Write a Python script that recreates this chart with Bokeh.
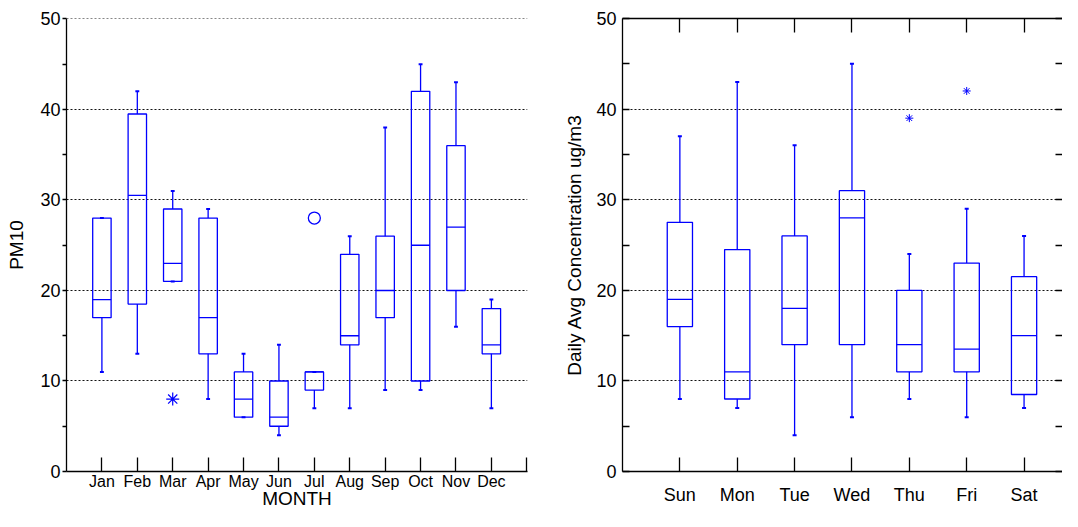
from bokeh.plotting import figure
from bokeh.layouts import row
from bokeh.models import ColumnDataSource, FixedTicker, LinearAxis, Range1d
from bokeh.embed import file_html
from bokeh.resources import INLINE

# ---------------- data ----------------
months = ["Jan", "Feb", "Mar", "Apr", "May", "Jun", "Jul", "Aug", "Sep", "Oct", "Nov", "Dec"]
m_low = [11, 13, 21, 8, 6, 4, 7, 7, 9, 9, 16, 7]
m_q1 = [17, 18.5, 21, 13, 6, 5, 9, 14, 17, 10, 20, 13]
m_med = [19, 30.5, 23, 17, 8, 6, 11, 15, 20, 25, 27, 14]
m_q3 = [28, 39.5, 29, 28, 11, 10, 11, 24, 26, 42, 36, 18]
m_high = [28, 42, 31, 29, 13, 14, 11, 26, 38, 45, 43, 19]
m_far_cat = ["Mar"]          # far outside (asterisk)
m_far_val = [8]
m_out_cat = ["Jul"]          # outside (circle)
m_out_val = [28]

days = ["Sun", "Mon", "Tue", "Wed", "Thu", "Fri", "Sat"]
d_low = [8, 7, 4, 6, 8, 6, 7]
d_q1 = [16, 8, 14, 14, 11, 11, 8.5]
d_med = [19, 11, 18, 28, 14, 13.5, 15]
d_q3 = [27.5, 24.5, 26, 31, 20, 23, 21.5]
d_high = [37, 43, 36, 45, 24, 29, 26]
d_out_cat = ["Thu", "Fri"]
d_out_val = [39, 42]

y_major = [0, 10, 20, 30, 40, 50]
y_minor = [5, 15, 25, 35, 45]
y_grid = [10, 20, 30, 40, 50]

BLUE = "#0000ff"
FONT = "Liberation Sans"
H = 511


def draw_boxes(p, cats, low, q1, med, q3, high, box_w, cap_w):
    x = list(range(1, len(cats) + 1))
    src = ColumnDataSource(dict(
        x=x, low=low, q1=q1, med=med, q3=q3, high=high,
        left=[v - box_w / 2 for v in x], right=[v + box_w / 2 for v in x],
        cl=[v - cap_w / 2 for v in x], cr=[v + cap_w / 2 for v in x],
    ))
    p.segment(x0="x", y0="q3", x1="x", y1="high", source=src, line_color=BLUE, line_width=1.3)
    p.segment(x0="x", y0="low", x1="x", y1="q1", source=src, line_color=BLUE, line_width=1.3)
    p.quad(left="left", right="right", bottom="q1", top="q3", source=src,
           fill_color=None, line_color=BLUE, line_width=1.3)
    p.segment(x0="left", y0="med", x1="right", y1="med", source=src, line_color=BLUE, line_width=1.3)
    p.segment(x0="cl", y0="high", x1="cr", y1="high", source=src, line_color=BLUE, line_width=2)
    p.segment(x0="cl", y0="low", x1="cr", y1="low", source=src, line_color=BLUE, line_width=2)


def style_axis(ax):
    ax.axis_line_color = "black"
    ax.axis_line_width = 1.3
    ax.major_tick_line_color = "black"
    ax.major_tick_line_width = 1.3
    ax.minor_tick_line_color = "black"
    ax.minor_tick_line_width = 1.3
    ax.major_tick_in = 0
    ax.major_tick_out = 0
    ax.minor_tick_in = 0
    ax.minor_tick_out = 0
    ax.major_label_text_font = FONT
    ax.major_label_text_color = "black"
    ax.axis_label_text_font = FONT
    ax.axis_label_text_font_style = "normal"
    ax.axis_label_text_color = "black"
    ax.axis_label_text_font_size = "19px"


def style_common(p):
    p.outline_line_color = None
    p.xgrid.visible = False
    p.ygrid.ticker = FixedTicker(ticks=y_grid)
    p.ygrid.grid_line_color = "#111111"
    p.ygrid.grid_line_dash = "2 2"
    p.ygrid.grid_line_width = 1
    p.background_fill_color = "white"
    p.border_fill_color = "white"


# ---------------- left chart ----------------
p1 = figure(width=537, height=H, x_range=Range1d(0, 13.02), y_range=Range1d(0, 50.05),
            output_backend="svg", toolbar_location=None,
            min_border_left=66, min_border_right=10, min_border_top=18, min_border_bottom=38)
style_common(p1)
draw_boxes(p1, months, m_low, m_q1, m_med, m_q3, m_high, 0.52, 0.11)
p1.scatter([months.index(c) + 1 for c in m_far_cat], m_far_val, marker="asterisk",
           size=13, line_color=BLUE, line_width=1.2)
p1.scatter([months.index(c) + 1 for c in m_out_cat], m_out_val, marker="circle",
           size=12, line_color=BLUE, fill_color=None, line_width=1.3)

xa = p1.below[0]
style_axis(xa)
xa.ticker = FixedTicker(ticks=list(range(1, len(months) + 1)), minor_ticks=[len(months) + 1])
xa.major_label_overrides = {i + 1: m for i, m in enumerate(months)}
xa.major_tick_in = 14
xa.minor_tick_in = 14
xa.major_label_text_font_size = "16px"
xa.major_label_standoff = 1
xa.axis_label = "MONTH"
xa.axis_label_standoff = -5

ya = p1.left[0]
style_axis(ya)
ya.ticker = FixedTicker(ticks=y_major, minor_ticks=y_minor)
ya.major_tick_out = 4
ya.minor_tick_out = 4
ya.major_label_text_font_size = "18px"
ya.major_label_standoff = 2
ya.axis_label = "PM10"
ya.axis_label_standoff = 10

# ---------------- right chart ----------------
p2 = figure(width=525, height=H, x_range=Range1d(0, 7.67), y_range=Range1d(0, 50),
            output_backend="svg", toolbar_location=None,
            min_border_left=85, min_border_right=0, min_border_top=18, min_border_bottom=38)
style_common(p2)
draw_boxes(p2, days, d_low, d_q1, d_med, d_q3, d_high, 0.44, 0.07)
p2.scatter([days.index(c) + 1 for c in d_out_cat], d_out_val, marker="asterisk",
           size=8, line_color=BLUE, line_width=1.0)

xb = p2.below[0]
style_axis(xb)
xb.ticker = FixedTicker(ticks=list(range(1, len(days) + 1)))
xb.major_label_overrides = {i + 1: d for i, d in enumerate(days)}
xb.major_tick_in = 14
xb.major_label_text_font_size = "18px"
xb.major_label_standoff = 13

yb = p2.left[0]
style_axis(yb)
yb.ticker = FixedTicker(ticks=y_major, minor_ticks=y_minor)
yb.major_tick_in = 7
yb.minor_tick_in = 7
yb.major_label_text_font_size = "18px"
yb.major_label_standoff = 6
yb.axis_label = "Daily Avg Concentration ug/m3"
yb.axis_label_standoff = 8

top_ax = LinearAxis(ticker=FixedTicker(ticks=[], minor_ticks=list(range(1, len(days) + 1))))
style_axis(top_ax)
top_ax.minor_tick_in = 14
top_ax.major_label_standoff = 0
p2.add_layout(top_ax, "above")

right_ax = LinearAxis(ticker=FixedTicker(ticks=[], minor_ticks=y_major + y_minor))
style_axis(right_ax)
right_ax.axis_line_color = None
right_ax.minor_tick_in = 7
right_ax.major_label_standoff = 0
p2.add_layout(right_ax, "right")

layout = row(p1, p2)
open("out.html", "w").write(file_html(layout, INLINE))
